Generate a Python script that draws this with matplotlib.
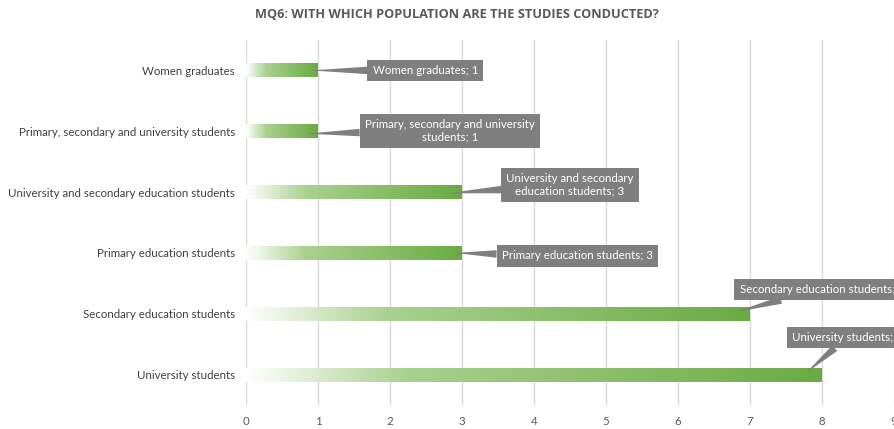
import numpy as np
import matplotlib.pyplot as plt
from matplotlib.colors import LinearSegmentedColormap

# data (bottom to top)
categories = ["University students", "Secondary education students",
              "Primary education students",
              "University and secondary education students",
              "Primary, secondary and university students", "Women graduates"]
values = [8, 7, 3, 3, 1, 1]
label_texts = ["University students; 8", "Secondary education students; 7",
               "Primary education students; 3",
               "University and secondary\neducation students; 3",
               "Primary, secondary and university\nstudents; 1",
               "Women graduates; 1"]

# callout placement relative to bar end (dx, dy) and tip offsets
label_offsets = [(0.35, 0.61), (1.0, 0.40), (1.6, -0.05), (1.5, 0.12), (1.83, 0.01), (1.49, 0.0)]
tip_offsets = [(-0.22, 0.03), (-0.2, 0.03), (-0.1, 0.0), (-0.2, -0.02), (-0.15, -0.04), (-0.1, 0.0)]

plt.rcParams['font.family'] = ['Lato', 'DejaVu Sans']

fig = plt.figure(figsize=(8.94, 4.29), dpi=100)
ax = fig.add_axes([246 / 894, 24 / 429, 1 - 246 / 894, 365 / 429])

green = LinearSegmentedColormap.from_list(
    "g", [(0, "#ffffff"), (0.28, "#a9d18e"), (1, "#6aab44")])
grad = np.linspace(0, 1, 256).reshape(1, -1)
bar_h = 0.23
y = np.arange(len(categories))
for yi, v in zip(y, values):
    ax.imshow(grad, cmap=green, aspect='auto', extent=(0, v, yi - bar_h / 2, yi + bar_h / 2),
              zorder=2, interpolation='bilinear')

ax.set_xlim(0, 9)
ax.set_ylim(-0.5, len(categories) - 0.5)
ax.set_xticks(np.arange(0, 10))
ax.set_yticks(y)
ax.set_yticklabels(categories)
ax.tick_params(length=0, labelsize=8.3, colors='#404040')
ax.tick_params(axis='y', pad=8)
ax.tick_params(axis='x', pad=8, colors='#595959')
ax.grid(axis='x', color='#d9d9d9', linewidth=1, zorder=0)
ax.set_axisbelow(True)
for s in ax.spines.values():
    s.set_visible(False)

box_col = '#7f7f7f'
for yi, v, txt, (dx, dy), (tx, ty) in zip(y, values, label_texts, label_offsets, tip_offsets):
    ax.annotate(txt, xy=(v + tx, yi + ty), xytext=(v + dx, yi + dy),
                ha='center', va='center', color='white', fontsize=8.3,
                annotation_clip=False, zorder=5,
                bbox=dict(boxstyle='square,pad=0.45', fc=box_col, ec='none'),
                arrowprops=dict(arrowstyle='wedge,tail_width=0.65', fc=box_col, ec='none',
                                shrinkA=0, shrinkB=0))

fig.text(457 / 894, 1 - 15 / 429, "MQ6: WITH WHICH POPULATION ARE THE STUDIES CONDUCTED?",
         ha='center', va='center', fontsize=9.2, fontweight='bold', color='#595959',
         family=['Open Sans', 'DejaVu Sans'])

fig.savefig("out.png", dpi=100)
